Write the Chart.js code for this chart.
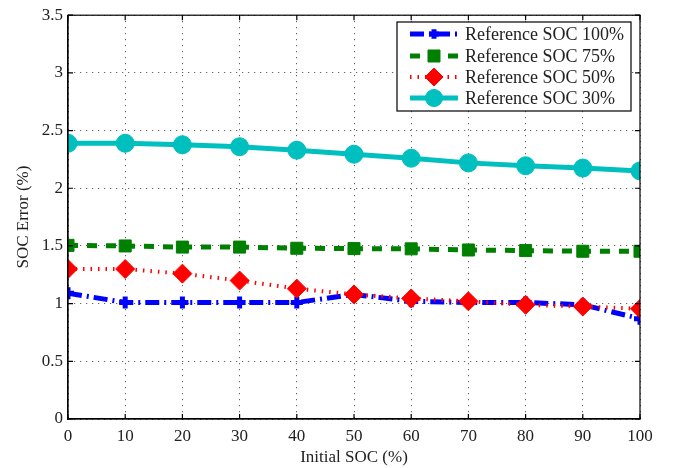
<!DOCTYPE html>
<html>
<head>
<meta charset="utf-8">
<script src="https://cdn.jsdelivr.net/npm/chart.js@4"></script>
<style>
html,body{margin:0;padding:0;background:#fff;}
#wrap{width:673px;height:468px;}
</style>
</head>
<body>
<div id="wrap"><canvas id="c" width="673" height="468"></canvas></div>
<script>
const initialSOC = [0,10,20,30,40,50,60,70,80,90,100];
const ref100 = [1.09,1.01,1.01,1.01,1.01,1.08,1.02,1.01,1.01,0.99,0.87];
const ref75  = [1.505,1.50,1.49,1.49,1.48,1.477,1.475,1.465,1.46,1.454,1.454];
const ref50  = [1.30,1.30,1.26,1.20,1.13,1.08,1.045,1.02,0.99,0.975,0.955];
const ref30  = [2.39,2.39,2.377,2.36,2.33,2.295,2.26,2.22,2.195,2.175,2.15];
const seriesNames = ['Reference SOC 100%','Reference SOC 75%','Reference SOC 50%','Reference SOC 30%'];
const yTicks = [0,0.5,1,1.5,2,2.5,3,3.5];
const xTicks = [0,10,20,30,40,50,60,70,80,90,100];

const FONT = "'Liberation Serif','Times New Roman',serif";

function pts(arr){ return arr.map((v,i)=>({x:initialSOC[i], y:v})); }

const datasets = [
  {label:seriesNames[3], data:pts(ref30), borderColor:'#00BFBF', backgroundColor:'#00BFBF',
   borderWidth:5, pointStyle:'circle', pointRadius:9, pointBorderWidth:1, borderDash:[]},
  {label:seriesNames[1], data:pts(ref75), borderColor:'#008000', backgroundColor:'#008000',
   borderWidth:5, pointStyle:'rect', pointRadius:8.5, pointBorderWidth:1, borderDash:[10,9]},
  {label:seriesNames[2], data:pts(ref50), borderColor:'#FF0000', backgroundColor:'#FF0000',
   borderWidth:4, pointStyle:'rectRot', pointRadius:9.5, pointBorderWidth:1, borderDash:[1.5,6]},
  {label:seriesNames[0], data:pts(ref100), borderColor:'#0000FF', backgroundColor:'#0000FF',
   borderWidth:5, pointStyle:'cross', pointRadius:6, pointBorderWidth:5, borderDash:[14,5,2,5]},
];
datasets.forEach(d=>{ d.tension=0; d.fill=false; d.pointHoverRadius=d.pointRadius; d.pointBorderColor=d.borderColor; d.pointBackgroundColor=d.backgroundColor; });

const framePlugin = {
  id:'frame',
  afterDatasetsDraw(chart){
    const {ctx, chartArea:a, scales} = chart;
    ctx.save();
    ctx.strokeStyle='#000'; ctx.lineWidth=1.2; ctx.setLineDash([]);
    ctx.strokeRect(a.left, a.top, a.right-a.left, a.bottom-a.top);
    const tl=5;
    ctx.beginPath();
    xTicks.forEach(v=>{ const x=scales.x.getPixelForValue(v);
      ctx.moveTo(x,a.bottom); ctx.lineTo(x,a.bottom-tl);
      ctx.moveTo(x,a.top); ctx.lineTo(x,a.top+tl); });
    yTicks.forEach(v=>{ const y=scales.y.getPixelForValue(v);
      ctx.moveTo(a.left,y); ctx.lineTo(a.left+tl,y);
      ctx.moveTo(a.right,y); ctx.lineTo(a.right-tl,y); });
    ctx.stroke();

    // legend
    const lx=397, ly=22, lw=234, lh=89;
    ctx.fillStyle='#fff';
    ctx.fillRect(lx,ly,lw,lh);
    ctx.strokeStyle='#000'; ctx.lineWidth=1.2;
    ctx.strokeRect(lx,ly,lw,lh);
    const order=[3,1,2,0];
    const rowsY=[34,56,77,98];
    const scale=[0.8,1.0,0.95,0.95];
    order.forEach((di,k)=>{
      const d=datasets[di]; const y=rowsY[k];
      ctx.save();
      ctx.strokeStyle=d.borderColor; ctx.lineWidth=d.borderWidth;
      ctx.setLineDash(d.borderDash);
      ctx.beginPath(); ctx.moveTo(410,y); ctx.lineTo(458,y); ctx.stroke();
      ctx.restore();
      ctx.save();
      ctx.fillStyle=d.backgroundColor; ctx.strokeStyle=d.borderColor; ctx.lineWidth=d.pointBorderWidth;
      Chart.helpers.drawPoint(ctx,{pointStyle:d.pointStyle, radius:d.pointRadius*scale[k], borderWidth:d.pointBorderWidth, rotation:0}, 434, y);
      ctx.restore();
      ctx.fillStyle='#222'; ctx.font='18px '+FONT; ctx.textBaseline='middle'; ctx.textAlign='left';
      ctx.fillText(seriesNames[k], 465, y+1);
    });
    ctx.restore();
  }
};

new Chart(document.getElementById('c'), {
  type:'line',
  data:{datasets},
  options:{
    responsive:false, animation:false,
    layout:{padding:{top:12,right:33,left:0,bottom:0}},
    plugins:{legend:{display:false}, tooltip:{enabled:false}},
    scales:{
      x:{type:'linear', min:0, max:100,
        afterBuildTicks(s){ s.ticks = xTicks.map(v=>({value:v})); },
        afterFit(s){ s.height=49; },
        ticks:{color:'#222', font:{family:FONT,size:17}, padding:7, maxRotation:0, autoSkip:false},
        grid:{color:'rgba(0,0,0,0.75)', lineWidth:1, drawTicks:false},
        border:{display:true, color:'#000', width:1.2, dash:[1,5]},
        title:{display:true, text:'Initial SOC (%)', color:'#222', font:{family:FONT,size:17}, padding:{top:0,bottom:0}}
      },
      y:{type:'linear', min:0, max:3.5,
        afterBuildTicks(s){ s.ticks = yTicks.map(v=>({value:v})); },
        afterFit(s){ s.width=68; },
        ticks:{color:'#222', font:{family:FONT,size:17}, padding:5, autoSkip:false, callback:v=>String(v)},
        grid:{color:'rgba(0,0,0,0.75)', lineWidth:1, drawTicks:false},
        border:{display:true, color:'#000', width:1.2, dash:[1,5]},
        title:{display:true, text:'SOC Error (%)', color:'#222', font:{family:FONT,size:17}, padding:{top:13,bottom:0}}
      }
    }
  },
  plugins:[framePlugin]
});
</script>
</body>
</html>
